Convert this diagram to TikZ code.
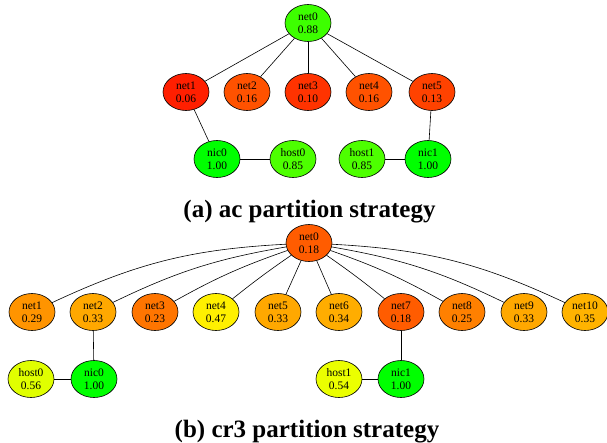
\documentclass[tikz,border=0pt]{standalone}
\usepackage{fontspec}
\setmainfont{Liberation Serif}
\usetikzlibrary{shapes.geometric}
\definecolor{h006}{RGB}{255,31,0}
\definecolor{h010}{RGB}{255,51,0}
\definecolor{h013}{RGB}{255,66,0}
\definecolor{h016}{RGB}{255,82,0}
\definecolor{h018}{RGB}{255,92,0}
\definecolor{h023}{RGB}{255,117,0}
\definecolor{h025}{RGB}{255,128,0}
\definecolor{h029}{RGB}{255,148,0}
\definecolor{h033}{RGB}{255,168,0}
\definecolor{h034}{RGB}{255,173,0}
\definecolor{h035}{RGB}{255,179,0}
\definecolor{h047}{RGB}{255,240,0}
\definecolor{h054}{RGB}{235,255,0}
\definecolor{h056}{RGB}{224,255,0}
\definecolor{h085}{RGB}{77,255,0}
\definecolor{h088}{RGB}{61,255,0}
\definecolor{h100}{RGB}{0,255,0}
\tikzset{
  gnode/.style={ellipse, draw=black, line width=0.6pt, minimum width=46pt, minimum height=37pt,
    inner sep=0pt, align=center, font=\fontsize{11.5}{13.3}\selectfont},
  link/.style={draw=black, line width=0.6pt},
  caption/.style={anchor=base, inner sep=0pt, font=\fontsize{25}{28}\selectfont\bfseries}
}
\begin{document}
\begin{tikzpicture}[x=1pt,y=-1pt]
\useasboundingbox (0,0) rectangle (607,442);
% (a)
\node[gnode, fill=h088] (a0) at (308,23) {net0\\0.88};
\node[gnode, fill=h006] (a1) at (186,92) {net1\\0.06};
\node[gnode, fill=h016] (a2) at (247,92) {net2\\0.16};
\node[gnode, fill=h010] (a3) at (308,92) {net3\\0.10};
\node[gnode, fill=h016] (a4) at (369,92) {net4\\0.16};
\node[gnode, fill=h013] (a5) at (432,92) {net5\\0.13};
\node[gnode, fill=h100] (anic0) at (217,159) {nic0\\1.00};
\node[gnode, fill=h085] (ahost0) at (293,159) {host0\\0.85};
\node[gnode, fill=h085] (ahost1) at (362,159) {host1\\0.85};
\node[gnode, fill=h100] (anic1) at (428,159) {nic1\\1.00};
\foreach \n in {a1,a2,a3,a4,a5} \draw[link] (a0) -- (\n);
\draw[link] (a1) -- (anic0);
\draw[link] (anic0) -- (ahost0);
\draw[link] (a5) -- (anic1);
\draw[link] (ahost1) -- (anic1);
\node[caption] (capa) at (309.5,217) {(a) ac partition strategy};
% (b)
\node[gnode, fill=h018] (b0) at (309,243) {net0\\0.18};
\node[gnode, fill=h029] (b1) at (32,312) {net1\\0.29};
\node[gnode, fill=h033] (b2) at (93,312) {net2\\0.33};
\node[gnode, fill=h023] (b3) at (155,312) {net3\\0.23};
\node[gnode, fill=h047] (b4) at (216,312) {net4\\0.47};
\node[gnode, fill=h033] (b5) at (278,312) {net5\\0.33};
\node[gnode, fill=h034] (b6) at (339,312) {net6\\0.34};
\node[gnode, fill=h018] (b7) at (401,312) {net7\\0.18};
\node[gnode, fill=h025] (b8) at (462,312) {net8\\0.25};
\node[gnode, fill=h033] (b9) at (524,312) {net9\\0.33};
\node[gnode, fill=h035] (b10) at (585,312) {net10\\0.35};
\node[gnode, fill=h056] (bhost0) at (31,379) {host0\\0.56};
\node[gnode, fill=h100] (bnic0) at (94,379) {nic0\\1.00};
\node[gnode, fill=h054] (bhost1) at (339,379) {host1\\0.54};
\node[gnode, fill=h100] (bnic1) at (401,379) {nic1\\1.00};
\draw[link] (b0) to[bend right=11] (b1);
\draw[link] (b0) to[bend right=8] (b2);
\draw[link] (b0) to[bend right=5] (b3);
\draw[link] (b0) to[bend right=2] (b4);
\draw[link] (b0) -- (b5);
\draw[link] (b0) -- (b6);
\draw[link] (b0) to[bend left=2] (b7);
\draw[link] (b0) to[bend left=5] (b8);
\draw[link] (b0) to[bend left=8] (b9);
\draw[link] (b0) to[bend left=11] (b10);
\draw[link] (b2) -- (bnic0);
\draw[link] (bhost0) -- (bnic0);
\draw[link] (b7) -- (bnic1);
\draw[link] (bhost1) -- (bnic1);
\node[caption] (capb) at (307,437) {(b) cr3 partition strategy};
\end{tikzpicture}
\end{document}
